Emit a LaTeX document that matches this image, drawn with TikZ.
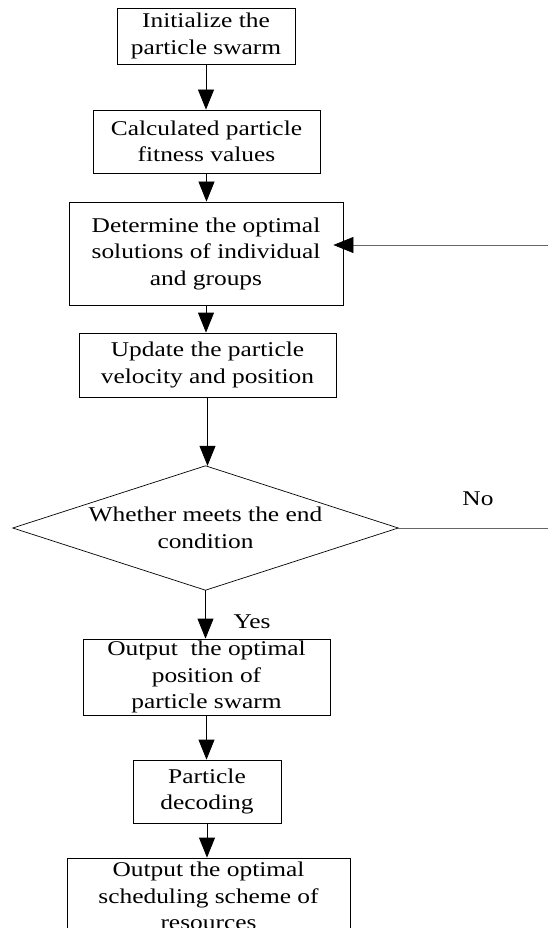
\documentclass[tikz,border=0pt]{standalone}
\usepackage{fontspec}
\setmainfont{Liberation Serif}[FakeStretch=1.21]
\usetikzlibrary{arrows.meta}
\begin{document}
\begin{tikzpicture}[x=1pt,y=-1pt,
  txt/.style={font=\fontsize{21}{26.5}\selectfont, align=center, inner sep=0pt},
  stepbox/.style={txt, draw=black, line width=0.8pt},
  arr/.style={-{Triangle[length=20pt,width=16pt]}, line width=0.8pt, draw=black},
  thinline/.style={line width=0.6pt, draw=black!60}]
\clip (0,0) rectangle (548,928);
\node[stepbox, minimum width=178pt, minimum height=56pt] (b1) at (206,36) {Initialize the\\particle swarm};
\node[stepbox, minimum width=227pt, minimum height=63pt] (b2) at (206.5,141.5) {Calculated particle\\fitness values};
\node[stepbox, minimum width=274pt, minimum height=103pt] (b3) at (206,253.5) {Determine the optimal\\solutions of individual\\and groups};
\node[stepbox, minimum width=257pt, minimum height=64pt] (b4) at (207.5,365) {Update the particle\\velocity and position};
\node[txt, minimum width=385pt, minimum height=124pt] (d) at (205.5,528) {Whether meets the end\\condition};
\draw[line width=0.7pt] (d.north) -- (d.east) -- (d.south) -- (d.west) -- cycle;
\node[stepbox, minimum width=247pt, minimum height=76pt] (b5) at (206.5,677) {Output\ \ the optimal\\position of\\particle swarm};
\node[stepbox, minimum width=148pt, minimum height=63pt] (b6) at (207,791.5) {Particle\\decoding};
\node[stepbox, minimum width=283pt, minimum height=76pt] (b7) at (208.5,896) {Output the optimal\\scheduling scheme of\\resources};
\node[txt] (no) at (478,499) {No};
\node[txt] (yes) at (252,622) {Yes};
\coordinate (fb) at (548,245);
\coordinate (ne) at (548,528);
\draw[arr] (b1.south) -- (b1.south |- b2.north);
\draw[arr] (b2.south) -- (b2.south |- b3.north);
\draw[arr] (b3.south) -- (b3.south |- b4.north);
\draw[arr] (b4.south) -- (b4.south |- d.north);
\draw[arr] (d.south) -- (d.south |- b5.north);
\draw[arr] (b5.south) -- (b5.south |- b6.north);
\draw[arr] (b6.south) -- (b6.south |- b7.north);
\draw[thinline] (d.east) -- (ne);
\draw[thinline, -{Triangle[length=20pt,width=16pt,color=black]}, shorten >=-10pt] (fb) -- (fb -| b3.east);
\end{tikzpicture}
\end{document}
